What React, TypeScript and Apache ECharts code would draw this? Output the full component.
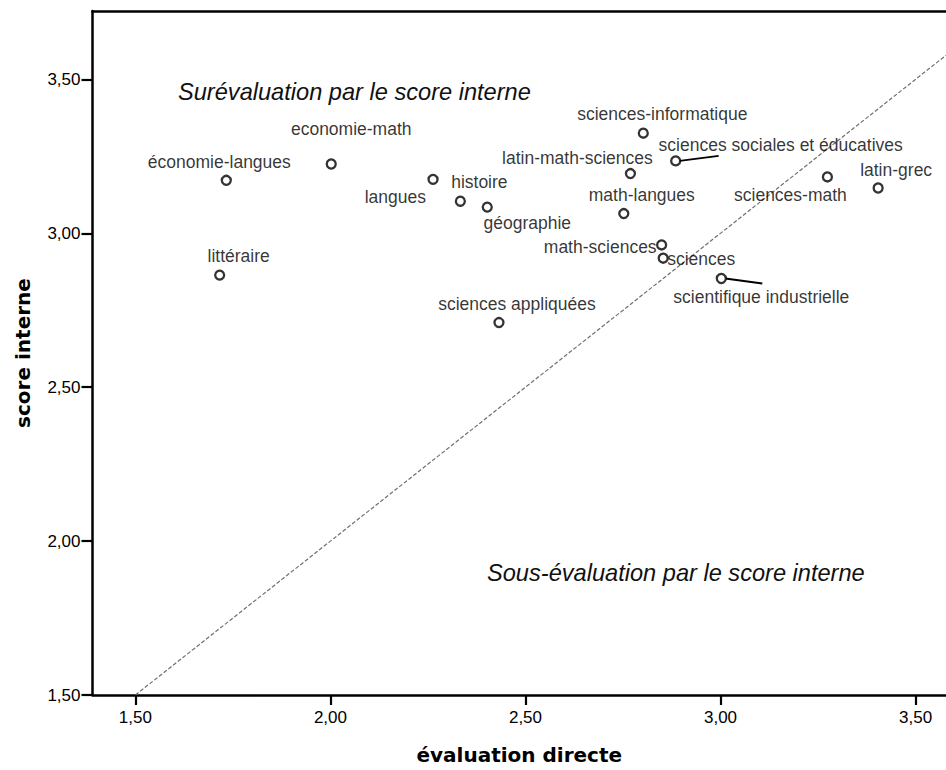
import React, { useEffect, useRef } from "react";
import * as echarts from "echarts";

// ---- data ----
const filieres = [
  "économie-langues",
  "littéraire",
  "economie-math",
  "langues",
  "histoire",
  "géographie",
  "sciences appliquées",
  "sciences-informatique",
  "latin-math-sciences",
  "sciences sociales et éducatives",
  "math-langues",
  "math-sciences",
  "sciences",
  "scientifique industrielle",
  "sciences-math",
  "latin-grec",
];
const evaluationDirecte = [
  1.733, 1.716, 2.002, 2.263, 2.333, 2.402, 2.432, 2.802, 2.769, 2.885, 2.752,
  2.849, 2.853, 3.002, 3.274, 3.404,
];
const scoreInterne = [
  3.172, 2.864, 3.225, 3.175, 3.104, 3.085, 2.71, 3.325, 3.194, 3.235, 3.064,
  2.962, 2.919, 2.853, 3.183, 3.147,
];
const tickValues = [1.5, 2.0, 2.5, 3.0, 3.5];
const diagonalEnds = [1.5, 3.578]; // reference line y = x
const annotationTop = "Surévaluation par le score interne";
const annotationBottom = "Sous-évaluation par le score interne";
const xTitle = "évaluation directe";
const yTitle = "score interne";

// ---- label placement (style, in pixels relative to the point) ----
type Placement = { dx: number; dy: number; align?: "left" | "center" | "right"; leader?: [number, number] };
const placement: Record<string, Placement> = {
  "économie-langues": { dx: -7, dy: -18 },
  "littéraire": { dx: 19, dy: -19 },
  "economie-math": { dx: 20, dy: -35 },
  "langues": { dx: -7, dy: 18, align: "right" },
  "histoire": { dx: 19, dy: -19 },
  "géographie": { dx: 40, dy: 16 },
  "sciences appliquées": { dx: 18, dy: -19 },
  "sciences-informatique": { dx: 19, dy: -19 },
  "latin-math-sciences": { dx: -53, dy: -16 },
  "sciences sociales et éducatives": { dx: 105, dy: -16, leader: [43, -5] },
  "math-langues": { dx: 18, dy: -19 },
  "math-sciences": { dx: -5, dy: 2, align: "right" },
  "sciences": { dx: 4, dy: 1, align: "left" },
  "scientifique industrielle": { dx: 40, dy: 18, leader: [41, 5] },
  "sciences-math": { dx: -37, dy: 18 },
  "latin-grec": { dx: 18, dy: -18 },
};

const fmt = (v: number) => v.toFixed(2).replace(".", ",");

export default function App() {
  const ref = useRef<HTMLDivElement>(null);
  useEffect(() => {
    if (!ref.current) return;
    const chart = echarts.init(ref.current, undefined, { renderer: "svg" });
    const labelFont = "Liberation Sans";
    const xMin = 1.39;
    const xMax = 3.578;
    const yMin = 1.5;
    const yMax = 3.722;

    const leaderNames = filieres.filter((n) => placement[n] && placement[n].leader);

    chart.setOption({
      animation: false,
      backgroundColor: "#fff",
      grid: { left: 92.5, right: 0, top: 11, bottom: 70.8, containLabel: false },
      xAxis: [
        {
          type: "value",
          min: xMin,
          max: xMax,
          name: xTitle,
          nameLocation: "middle",
          nameGap: 50,
          nameTextStyle: { fontFamily: "DejaVu Sans", fontWeight: "bold", fontSize: 20, color: "#000" },
          axisLine: { show: true, onZero: false, lineStyle: { color: "#000", width: 2.5 } },
          axisTick: { show: true, length: 10, customValues: tickValues, lineStyle: { color: "#000", width: 2.2 } },
          axisLabel: {
            customValues: tickValues,
            formatter: (v: number) => fmt(v),
            margin: 14,
            fontSize: 17,
            fontFamily: labelFont,
            color: "#000",
          },
          splitLine: { show: false },
        },
        {
          type: "value",
          position: "top",
          min: xMin,
          max: xMax,
          axisLine: { show: true, onZero: false, lineStyle: { color: "#000", width: 2.5 } },
          axisTick: { show: false },
          axisLabel: { show: false },
          splitLine: { show: false },
        },
      ],
      yAxis: {
        type: "value",
        min: yMin,
        max: yMax,
        name: yTitle,
        nameLocation: "middle",
        nameGap: 60,
        nameRotate: 90,
        nameTextStyle: { fontFamily: "DejaVu Sans", fontWeight: "bold", fontSize: 20, color: "#000" },
        axisLine: { show: true, onZero: false, lineStyle: { color: "#000", width: 2.5 } },
        axisTick: { show: true, length: 11, customValues: tickValues, lineStyle: { color: "#000", width: 2.2 } },
        axisLabel: {
          customValues: tickValues,
          formatter: (v: number) => fmt(v),
          margin: 12,
          fontSize: 17,
          fontFamily: labelFont,
          color: "#000",
        },
        splitLine: { show: false },
      },
      graphic: [
        {
          type: "text",
          x: 178,
          y: 92,
          style: {
            text: annotationTop,
            fontFamily: labelFont,
            fontStyle: "italic",
            fontSize: 23.6,
            fill: "#111",
            verticalAlign: "middle",
            align: "left",
          },
        },
        {
          type: "text",
          x: 487,
          y: 573,
          style: {
            text: annotationBottom,
            fontFamily: labelFont,
            fontStyle: "italic",
            fontSize: 23.6,
            fill: "#111",
            verticalAlign: "middle",
            align: "left",
          },
        },
      ],
      series: [
        {
          type: "line",
          data: diagonalEnds.map((v) => [v, v]),
          symbol: "none",
          silent: true,
          lineStyle: { color: "#707070", width: 1.2, type: [4, 2] },
          z: 1,
        },
        {
          type: "custom",
          z: 2,
          silent: true,
          data: leaderNames.map((n) => {
            const i = filieres.indexOf(n);
            return [evaluationDirecte[i], scoreInterne[i]];
          }),
          renderItem: (params: any, api: any) => {
            const p = api.coord([api.value(0), api.value(1)]);
            const pl = placement[leaderNames[params.dataIndex]];
            const l = pl.leader as [number, number];
            return {
              type: "line",
              shape: { x1: p[0] + 4, y1: p[1], x2: p[0] + l[0], y2: p[1] + l[1] },
              style: { stroke: "#000", lineWidth: 1.8 },
            };
          },
        },
        {
          type: "scatter",
          z: 3,
          symbol: "circle",
          symbolSize: 9,
          itemStyle: { color: "#fff", borderColor: "#000", borderWidth: 2.3 },
          label: {
            show: true,
            position: "inside",
            formatter: "{b}",
            color: "#000",
            fontFamily: labelFont,
            fontSize: 17.5,
            verticalAlign: "middle",
            textBorderWidth: 0,
          },
          data: filieres.map((n, i) => {
            const pl = placement[n];
            return {
              name: n,
              value: [evaluationDirecte[i], scoreInterne[i]],
              label: { offset: [pl.dx, pl.dy], align: pl.align || "center" },
            };
          }),
        },
      ],
    });
    return () => chart.dispose();
  }, []);
  return (
    <div
      ref={ref}
      style={{ position: "fixed", left: 0, top: 0, width: 946, height: 770, background: "#fff" }}
    />
  );
}
